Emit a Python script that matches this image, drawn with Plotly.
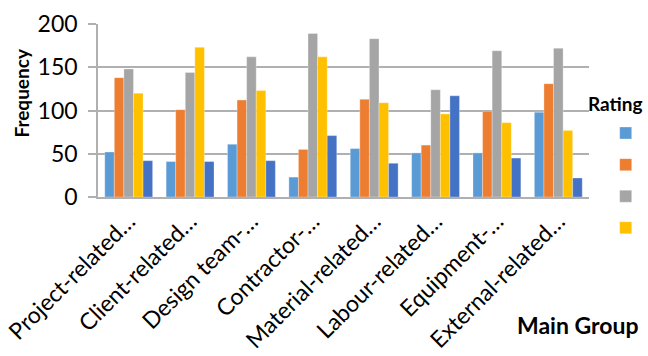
import plotly.graph_objects as go

categories = ["Project-related…", "Client-related…", "Design team-…", "Contractor-…",
              "Material-related…", "Labour-related…", "Equipment-…", "External-related…"]
rating1 = [52, 41, 61, 23, 56, 51, 51, 98]
rating2 = [138, 101, 112, 55, 113, 60, 99, 131]
rating3 = [148, 144, 162, 189, 183, 124, 169, 172]
rating4 = [120, 173, 123, 162, 109, 96, 86, 77]
rating5 = [42, 41, 42, 71, 39, 117, 45, 22]

series = [rating1, rating2, rating3, rating4, rating5]
colors = ["#5B9BD5", "#ED7D31", "#A5A5A5", "#FFC000", "#4472C4"]

FONT = "Lato"
fig = go.Figure()
for i, (vals, col) in enumerate(zip(series, colors)):
    fig.add_trace(go.Bar(
        x=categories, y=vals, name=" ", marker_color=col,
        marker_line=dict(color="white", width=0.3),
        showlegend=(i < 4),
    ))

fig.update_layout(
    width=648, height=356,
    margin=dict(l=98, r=59, t=24, b=159, autoexpand=False),
    barmode="group", bargap=0.22, bargroupgap=0,
    plot_bgcolor="white", paper_bgcolor="white",
    font=dict(family=FONT, color="#000000"),
    legend=dict(
        x=1.034, xanchor="left", y=0.49, yanchor="top",
        font=dict(size=22), itemwidth=30, tracegroupgap=0,
        bgcolor="rgba(0,0,0,0)",
    ),
    xaxis=dict(
        tickangle=-45, tickfont=dict(size=23, family=FONT),
        showline=True, linecolor="#B0B0B0", linewidth=1.5,
        ticks="", showgrid=False,
    ),
    yaxis=dict(
        range=[0, 200], dtick=50, tickfont=dict(size=23, family=FONT),
        showgrid=True, gridcolor="#B0B0B0", gridwidth=1.5,
        showline=True, linecolor="#B0B0B0", linewidth=1.5,
        zeroline=False, ticks="outside", ticklen=8, tickwidth=1.5,
        tickcolor="#B0B0B0", ticklabelstandoff=6,
    ),
    annotations=[
        dict(text="<b>Main Group</b>", xref="paper", yref="paper",
             x=1.105, xanchor="right", y=-0.74, yanchor="middle",
             showarrow=False, font=dict(size=23, family=FONT)),
        dict(text="<b>Rating</b>", xref="paper", yref="paper",
             x=1.053, xanchor="center", y=0.543, yanchor="middle",
             showarrow=False, font=dict(size=19, family=FONT)),
        dict(text="<b>Frequency</b>", xref="paper", yref="paper",
             x=-0.155, xanchor="center", y=0.603, yanchor="middle",
             textangle=-90, showarrow=False, font=dict(size=19, family=FONT)),
    ],
)

fig.write_html("out.html")
